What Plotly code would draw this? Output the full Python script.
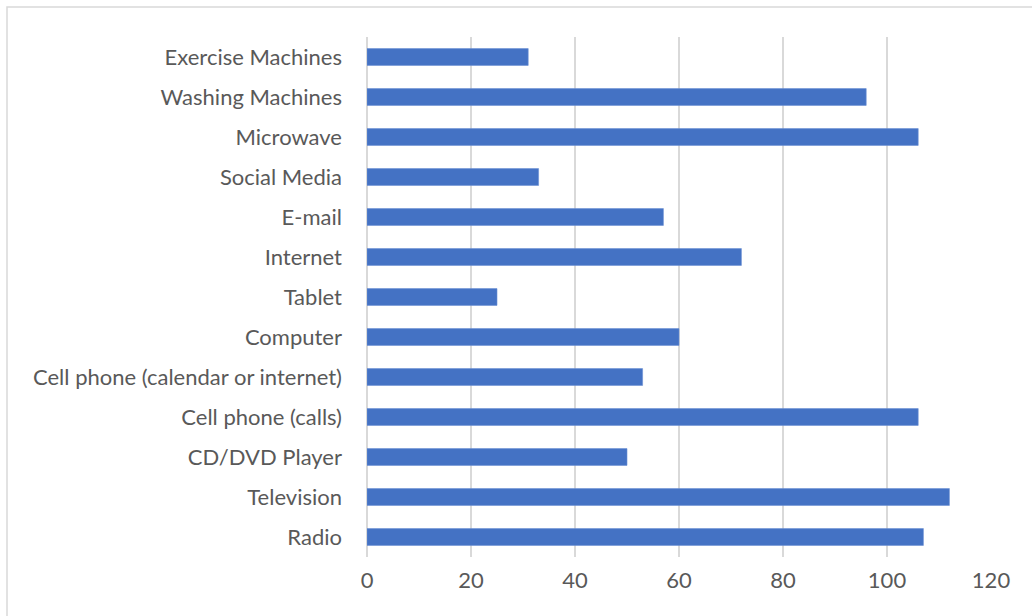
import plotly.graph_objects as go

categories = [
    "Exercise Machines", "Washing Machines", "Microwave", "Social Media",
    "E-mail", "Internet", "Tablet", "Computer",
    "Cell phone (calendar or internet)", "Cell phone (calls)",
    "CD/DVD Player", "Television", "Radio",
]
values = [31, 96, 106, 33, 57, 72, 25, 60, 53, 106, 50, 112, 107]
x_ticks = [0, 20, 40, 60, 80, 100, 120]

W, H = 1032, 616
L, R, T, B = 367, 41, 37, 59
pw, ph = W - L - R, H - T - B

fig = go.Figure(go.Bar(
    x=values, y=categories, orientation="h",
    marker=dict(color="#4472C4", line=dict(color="#6a8fd3", width=0.6)),
    hoverinfo="x+y",
))

font = dict(family="Lato, Open Sans, sans-serif", size=22, color="#595959")

fig.update_layout(
    width=W, height=H,
    margin=dict(l=L, r=R, t=T, b=B, autoexpand=False),
    paper_bgcolor="white", plot_bgcolor="white",
    bargap=0.58, showlegend=False, font=font,
    xaxis=dict(range=[0, 120], tickvals=x_ticks, ticktext=[str(v) for v in x_ticks],
               showgrid=True, gridcolor="#d9d9d9", gridwidth=1.5,
               zeroline=True, zerolinecolor="#d9d9d9", zerolinewidth=1.5,
               showline=False, ticks="", ticklabelstandoff=8, tickfont=font,
               fixedrange=True),
    yaxis=dict(categoryorder="array", categoryarray=categories, autorange="reversed",
               showgrid=False, zeroline=False, showline=False, ticks="",
               ticklabelstandoff=24, tickfont=font, fixedrange=True),
    shapes=[dict(type="rect", xref="paper", yref="paper",
                 x0=(7 - L) / pw, x1=(W + 5 - L) / pw,
                 y0=-(H + 5 - T - ph) / ph, y1=1 + (T - 7) / ph,
                 line=dict(color="#d9d9d9", width=1.5), fillcolor="rgba(0,0,0,0)",
                 layer="below")],
)

fig.write_html("out.html", config={"displayModeBar": False},
               post_script=["document.body.style.margin='0';"])
